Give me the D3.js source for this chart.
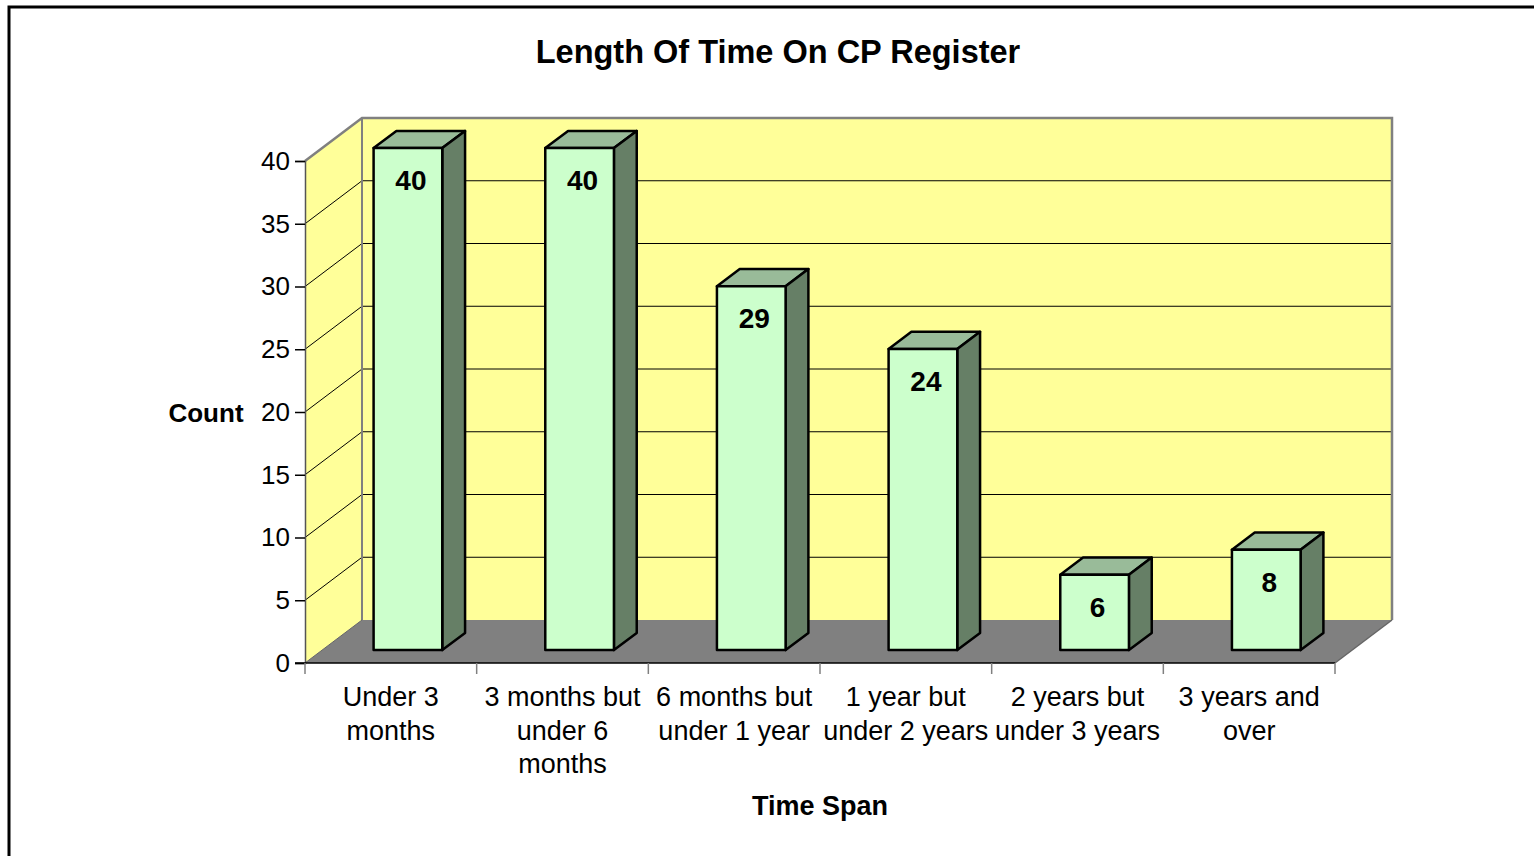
<!DOCTYPE html>
<html>
<head>
<meta charset="utf-8">
<script src="https://cdn.jsdelivr.net/npm/d3@7"></script>
<style>
    body { margin: 0; background: #fff; }
    text { font-family: Arial, "Liberation Sans", sans-serif; }
</style>
</head>
<body>
<div id="chart"></div>
<script>
// Data for the chart
const categories = ["Under 3 months", "3 months but under 6 months", "6 months but under 1 year",
    "1 year but under 2 years", "2 years but under 3 years", "3 years and over"];
const categoryLines = [["Under 3", "months"], ["3 months but", "under 6", "months"], ["6 months but", "under 1 year"],
    ["1 year but", "under 2 years"], ["2 years but", "under 3 years"], ["3 years and", "over"]];
const values = [40, 40, 29, 24, 6, 8];
const yTicks = [0, 5, 10, 15, 20, 25, 30, 35, 40];

function drawChart() {
    const width = 1534;
    const height = 856;

    // front plane of the 3d box and depth offset
    const left = 305, right = 1335, bottom = 663, top = 161;
    const depthX = 57, depthY = -43;

    const svg = d3.select("#chart")
        .append("svg")
        .attr("width", width)
        .attr("height", height);

    // outer frame
    svg.append("rect")
        .attr("x", 9).attr("y", 7)
        .attr("width", width + 20).attr("height", height + 20)
        .attr("fill", "none")
        .attr("stroke", "#000")
        .attr("stroke-width", 3);

    const x = d3.scaleBand().domain(categories).range([left, right]);
    const y = d3.scaleLinear().domain([0, 40]).range([bottom, top]);

    const pts = (arr) => arr.map(p => p.join(",")).join(" ");
    const back = (px, py, f = 1) => [px + depthX * f, py + depthY * f];

    // left wall
    svg.append("polygon")
        .attr("points", pts([[left, y(0)], [left, y(40)], back(left, y(40)), back(left, y(0))]))
        .attr("fill", "#ffff99");

    // back wall
    svg.append("polygon")
        .attr("points", pts([back(left, y(40)), back(right, y(40)), back(right, y(0)), back(left, y(0))]))
        .attr("fill", "#ffff99");

    // floor
    svg.append("polygon")
        .attr("points", pts([[left, y(0)], [right, y(0)], back(right, y(0)), back(left, y(0))]))
        .attr("fill", "#808080");

    // gridlines on back wall and left wall
    const grid = yTicks.filter(t => t > 0 && t < 40);
    svg.selectAll(".gridBack")
        .data(grid)
        .enter()
        .append("line")
        .attr("x1", back(left, 0)[0]).attr("x2", back(right, 0)[0])
        .attr("y1", d => back(0, y(d))[1]).attr("y2", d => back(0, y(d))[1])
        .attr("stroke", "#000").attr("stroke-width", 1);

    svg.selectAll(".gridSide")
        .data(grid)
        .enter()
        .append("line")
        .attr("x1", left).attr("y1", d => y(d))
        .attr("x2", back(left, 0)[0]).attr("y2", d => back(0, y(d))[1])
        .attr("stroke", "#000").attr("stroke-width", 1);

    // wall outlines
    svg.append("polyline")
        .attr("points", pts([[left, y(40)], back(left, y(40)), back(right, y(40)), back(right, y(0))]))
        .attr("fill", "none").attr("stroke", "#808080").attr("stroke-width", 2.5);
    svg.append("line")
        .attr("x1", back(left, 0)[0]).attr("x2", back(left, 0)[0])
        .attr("y1", back(0, y(40))[1]).attr("y2", back(0, y(0))[1])
        .attr("stroke", "#808080").attr("stroke-width", 2);
    svg.append("line")
        .attr("x1", right).attr("y1", y(0))
        .attr("x2", back(right, y(0))[0]).attr("y2", back(right, y(0))[1])
        .attr("stroke", "#666").attr("stroke-width", 1.5);
    svg.append("line")
        .attr("x1", left).attr("y1", y(0))
        .attr("x2", back(left, y(0))[0]).attr("y2", back(left, y(0))[1])
        .attr("stroke", "#666").attr("stroke-width", 1);

    // y axis
    const yAxis = svg.append("g")
        .attr("transform", `translate(${left},0)`)
        .call(d3.axisLeft(y).tickValues(yTicks).tickSize(10).tickPadding(5));
    yAxis.select(".domain").attr("stroke", "#555").attr("stroke-width", 1.5);
    yAxis.selectAll(".tick line").attr("stroke", "#000").attr("stroke-width", 1.5);
    yAxis.selectAll(".tick text")
        .attr("font-size", 26)
        .attr("font-family", "Arial, 'Liberation Sans', sans-serif")
        .attr("fill", "#000");

    // x axis line and ticks at category boundaries
    svg.append("line")
        .attr("x1", left - 10).attr("x2", right)
        .attr("y1", y(0)).attr("y2", y(0))
        .attr("stroke", "#000").attr("stroke-width", 1.5);
    const boundaries = categories.map(c => x(c)).concat([right]);
    svg.selectAll(".xtick")
        .data(boundaries)
        .enter()
        .append("line")
        .attr("x1", d => d).attr("x2", d => d)
        .attr("y1", y(0)).attr("y2", y(0) + 11)
        .attr("stroke", "#808080").attr("stroke-width", 1.5);

    // category labels
    const catLabel = svg.selectAll(".catLabel")
        .data(categories)
        .enter()
        .append("text")
        .attr("text-anchor", "middle")
        .attr("font-size", 27)
        .attr("fill", "#000");
    catLabel.each(function (d, i) {
        categoryLines[i].forEach((line, j) => {
            d3.select(this).append("tspan")
                .attr("x", x(d) + x.bandwidth() / 2)
                .attr("y", 706 + j * 33.5)
                .text(line);
        });
    });

    // bars
    const barW = x.bandwidth() * 0.4;
    const fFront = 0.3, fBack = 0.7;
    const bar = svg.selectAll(".bar")
        .data(categories.map((c, i) => ({ cat: c, value: values[i] })))
        .enter()
        .append("g")
        .attr("class", "bar");

    bar.each(function (d) {
        const g = d3.select(this);
        const x0 = x(d.cat) + (x.bandwidth() - barW) / 2;
        const x1 = x0 + barW;
        const ft = back(x0, y(d.value), fFront), fr = back(x1, y(d.value), fFront);
        const fb = back(x1, y(0), fFront);
        const bt = back(x0, y(d.value), fBack), br = back(x1, y(d.value), fBack);
        const bb = back(x1, y(0), fBack);

        g.append("polygon")
            .attr("points", pts([ft, fr, br, bt]))
            .attr("fill", "#99bb99");
        g.append("polygon")
            .attr("points", pts([fr, br, bb, fb]))
            .attr("fill", "#667f66");
        g.append("rect")
            .attr("x", ft[0]).attr("y", ft[1])
            .attr("width", barW).attr("height", fb[1] - ft[1])
            .attr("fill", "#ccffcc");
        g.selectAll("polygon, rect")
            .attr("stroke", "#000")
            .attr("stroke-width", 2.5)
            .attr("stroke-linejoin", "round");

        // data label
        g.append("text")
            .attr("x", ft[0] + barW / 2 + 3)
            .attr("y", ft[1] + 42)
            .attr("text-anchor", "middle")
            .attr("font-size", 28)
            .attr("font-weight", "bold")
            .text(d.value);
    });

    // titles
    svg.append("text")
        .attr("x", 778).attr("y", 63)
        .attr("text-anchor", "middle")
        .attr("font-size", 32.5)
        .attr("font-weight", "bold")
        .text("Length Of Time On CP Register");

    svg.append("text")
        .attr("x", (left + right) / 2).attr("y", 815)
        .attr("text-anchor", "middle")
        .attr("font-size", 27)
        .attr("font-weight", "bold")
        .text("Time Span");

    svg.append("text")
        .attr("x", 206).attr("y", 422)
        .attr("text-anchor", "middle")
        .attr("font-size", 26)
        .attr("font-weight", "bold")
        .text("Count");
}

drawChart();
</script>
</body>
</html>
